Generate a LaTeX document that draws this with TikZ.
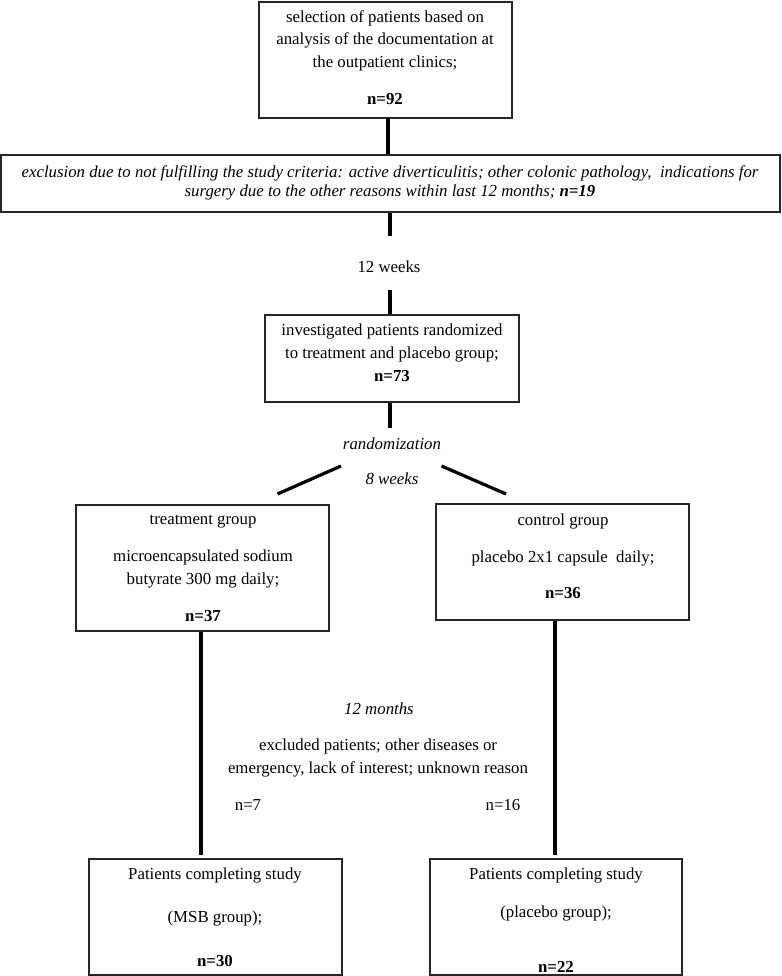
\documentclass[tikz,border=0pt]{standalone}
\usepackage{fontspec}
\setmainfont{Liberation Serif}
\begin{document}
\begin{tikzpicture}[x=1pt,y=-1pt]
\tikzset{
  box/.style={draw=black!85, line width=1.1pt, inner sep=0pt},
  txt/.style={align=center, inner sep=0pt, font=\fontsize{16.8}{22.5}\selectfont},
  conn/.style={line width=3.2pt},
}
\useasboundingbox (0,0) rectangle (781,976);
% boxes
\node[box, minimum width=253pt, minimum height=116pt] (b1) at (385.5,60) {};
\node[box, minimum width=779pt, minimum height=57pt] (b2) at (390.5,183.5) {};
\node[box, minimum width=254pt, minimum height=87pt] (b3) at (392,358.5) {};
\node[box, minimum width=253pt, minimum height=126pt] (tl) at (202.5,568) {};
\node[box, minimum width=253pt, minimum height=116pt] (tr) at (562.5,562) {};
\node[box, minimum width=253pt, minimum height=116pt] (bl) at (215.5,917) {};
\node[box, minimum width=252pt, minimum height=116pt] (br) at (556,917) {};
% box texts
\node[txt] (t1) at (385,40.5) {selection of patients based on\\analysis of the documentation at\\the outpatient clinics;};
\node[txt, font=\fontsize{16.8}{22.5}\selectfont\bfseries] (n92) at (385,99) {n=92};
\node[txt, font=\fontsize{16.8}{19.5}\selectfont\itshape] (t2) at (390,183) {exclusion due to not fulfilling the study criteria: active diverticulitis; other colonic pathology,~ indications for\\surgery due to the other reasons within last 12 months; \textbf{n=19}};
\node[txt] (t3) at (392,343) {investigated patients randomized\\to treatment and placebo group;};
\node[txt, font=\fontsize{16.8}{22.5}\selectfont\bfseries] (n73) at (392,376) {n=73};
\node[txt] (tl1) at (203,522) {treatment group};
\node[txt] (tl2) at (203,569) {microencapsulated sodium\\butyrate 300 mg daily;};
\node[txt, font=\fontsize{16.8}{22.5}\selectfont\bfseries] (n37) at (203,616) {n=37};
\node[txt] (tr1) at (563,521) {control group};
\node[txt] (tr2) at (563,558) {placebo 2x1 capsule~ daily;};
\node[txt, font=\fontsize{16.8}{22.5}\selectfont\bfseries] (n36) at (563,593) {n=36};
\node[txt] (bl1) at (215,875) {Patients completing study};
\node[txt] (bl2) at (215,918) {(MSB group);};
\node[txt, font=\fontsize{16.8}{22.5}\selectfont\bfseries] (n30) at (215,961) {n=30};
\node[txt] (br1) at (556,875) {Patients completing study};
\node[txt] (br2) at (556,913) {(placebo group);};
\node[txt, font=\fontsize{16.8}{22.5}\selectfont\bfseries] (n22) at (556,967) {n=22};
% free texts
\node[txt] (w12) at (389,267) {12 weeks};
\node[txt, font=\fontsize{16.8}{22.5}\selectfont\itshape] (rnd) at (392,444) {randomization};
\node[txt, font=\fontsize{16.8}{22.5}\selectfont\itshape] (w8) at (392,479) {8 weeks};
\node[txt, font=\fontsize{16.8}{22.5}\selectfont\itshape] (m12) at (379,709) {12 months};
\node[txt] (exc) at (378,758) {excluded patients; other diseases or\\emergency, lack of interest; unknown reason};
\node[txt] (n7) at (248,805) {n=7};
\node[txt] (n16) at (503,805) {n=16};
% connectors
\coordinate (c1) at (388,118);
\draw[conn] (c1) -- (c1 |- b2.north);
\coordinate (c2) at (390,236);
\draw[conn] (b2.south -| c2) -- (c2);
\coordinate (c3) at (390,290);
\draw[conn] (c3) -- (c3 |- b3.north);
\coordinate (c4) at (390,428);
\draw[conn] (b3.south -| c4) -- (c4);
\coordinate (dl1) at (341,466);
\coordinate (dl2) at (277.5,494);
\coordinate (dr1) at (441.5,466);
\coordinate (dr2) at (506,494);
\draw[conn] (dl1) -- (dl2);
\draw[conn] (dr1) -- (dr2);
\coordinate (c5) at (201,855);
\draw[conn] (tl.south -| c5) -- (c5);
\coordinate (c6) at (555,855);
\draw[conn] (tr.south -| c6) -- (c6);
\end{tikzpicture}
\end{document}
